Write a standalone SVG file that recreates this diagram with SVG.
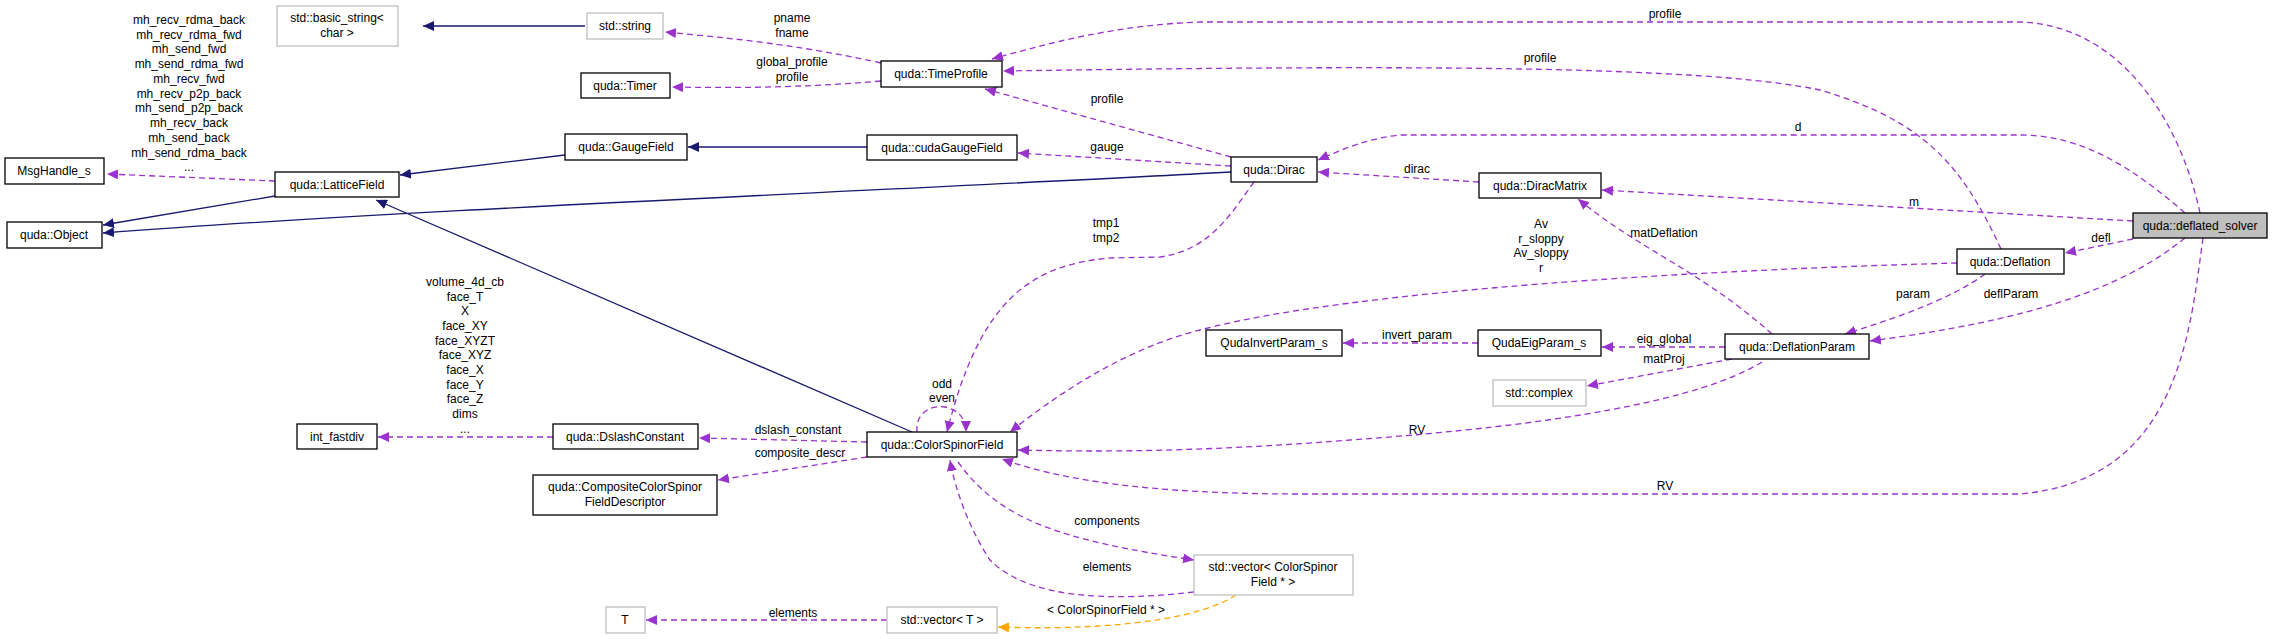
<svg xmlns="http://www.w3.org/2000/svg" width="2283" height="639" viewBox="0 0 2283 639">
<style>
text{font-family:"Liberation Sans",Arial,sans-serif;font-size:12px;fill:#000;text-anchor:middle}
.n rect{fill:#fff;stroke:#000;stroke-width:1.3}
.g rect{fill:#fff;stroke:#bfbfbf;stroke-width:1.3}
.m rect{fill:#bfbfbf;stroke:#000;stroke-width:1.3}
.e path{fill:none}
.inh{stroke:#191970;stroke-width:1.3}
.use{stroke:#9a32cd;stroke-width:1.3;stroke-dasharray:6,4}
.tpl{stroke:#ffa500;stroke-width:1.3;stroke-dasharray:6,4}
</style>
<defs>
<marker id="an" markerWidth="12" markerHeight="10" refX="11" refY="5" orient="auto" markerUnits="userSpaceOnUse"><path d="M0,0 L11,5 L0,10 z" fill="#191970"/></marker>
<marker id="ap" markerWidth="12" markerHeight="10" refX="11" refY="5" orient="auto" markerUnits="userSpaceOnUse"><path d="M0,0 L11,5 L0,10 z" fill="#9a32cd"/></marker>
<marker id="ao" markerWidth="12" markerHeight="10" refX="11" refY="5" orient="auto" markerUnits="userSpaceOnUse"><path d="M0,0 L11,5 L0,10 z" fill="#ffa500"/></marker>
</defs>
<rect width="2283" height="639" fill="#fff"/>
<g id="edges" class="e">
<path class="inh" marker-end="url(#an)" d="M585,26 L423,26"/>
<path class="inh" marker-end="url(#an)" d="M565,155 L400,175"/>
<path class="inh" marker-end="url(#an)" d="M867,147 L688,147"/>
<path class="inh" marker-end="url(#an)" d="M275,196 L103,225"/>
<path class="inh" marker-end="url(#an)" d="M1231,172 C900,190 400,210 103,233"/>
<path class="inh" marker-end="url(#an)" d="M912,432 L376,200"/>
<path class="use" marker-end="url(#ap)" d="M881,63 C800,45 730,38 665,32"/>
<path class="use" marker-end="url(#ap)" d="M881,81 C800,88 730,88 672,87"/>
<path class="use" marker-end="url(#ap)" d="M275,181 L107,174"/>
<path class="use" marker-end="url(#ap)" d="M1231,157 L985,89"/>
<path class="use" marker-end="url(#ap)" d="M1231,166 L1018,153"/>
<path class="use" marker-end="url(#ap)" d="M1479,182 L1318,172"/>
<path class="use" marker-end="url(#ap)" d="M2200,213 C2180,120 2120,25 2020,22 L1200,22 C1120,25 1060,40 992,59"/>
<path class="use" marker-end="url(#ap)" d="M2001,249 C1960,160 1920,120 1820,90 C1700,65 1400,65 1003,71"/>
<path class="use" marker-end="url(#ap)" d="M2185,213 C2130,165 2080,135 2020,135 L1400,135 C1370,138 1345,148 1318,160"/>
<path class="use" marker-end="url(#ap)" d="M2133,221 L1602,190"/>
<path class="use" marker-end="url(#ap)" d="M2133,239 L2065,253"/>
<path class="use" marker-end="url(#ap)" d="M2185,238 C2120,290 2030,320 1870,341"/>
<path class="use" marker-end="url(#ap)" d="M1985,274 C1950,300 1890,320 1845,334"/>
<path class="use" marker-end="url(#ap)" d="M1772,334 C1700,270 1640,250 1578,199"/>
<path class="use" marker-end="url(#ap)" d="M1957,263 C1700,270 1350,290 1200,330 C1120,350 1050,400 1010,432"/>
<path class="use" marker-end="url(#ap)" d="M1254,182 C1230,215 1210,250 1160,257 L1110,258 C1030,265 980,300 947,432"/>
<path class="use" marker-end="url(#ap)" d="M917,432 C915,410 935,405 945,407 C958,410 966,418 966,432"/>
<path class="use" marker-end="url(#ap)" d="M1725,347 L1602,347"/>
<path class="use" marker-end="url(#ap)" d="M1478,343 L1343,343"/>
<path class="use" marker-end="url(#ap)" d="M1732,359 L1587,386"/>
<path class="use" marker-end="url(#ap)" d="M1762,362 C1700,400 1560,425 1350,440 C1200,452 1100,452 1018,450"/>
<path class="use" marker-end="url(#ap)" d="M2203,238 C2190,330 2180,480 2020,494 L1300,494 C1150,494 1060,480 1002,459"/>
<path class="use" marker-end="url(#ap)" d="M553,437 L378,437"/>
<path class="use" marker-end="url(#ap)" d="M867,442 L699,438"/>
<path class="use" marker-end="url(#ap)" d="M867,457 L718,480"/>
<path class="use" marker-end="url(#ap)" d="M958,462 C1000,520 1060,540 1194,560"/>
<path class="use" marker-end="url(#ap)" d="M1194,592 C1080,605 1020,590 990,560 C970,530 955,490 950,460"/>
<path class="use" marker-end="url(#ap)" d="M887,620 L646,620"/>
<path class="tpl" marker-end="url(#ao)" d="M1236,595 C1190,625 1080,630 998,627"/>
</g>
<g id="labels">
<text x="792" y="22">pname</text><text x="792" y="37">fname</text>
<text x="792" y="66">global_profile</text><text x="792" y="81">profile</text>
<text x="1107" y="103">profile</text><text x="1107" y="151">gauge</text>
<text x="1417" y="173">dirac</text>
<text x="1665" y="18">profile</text><text x="1540" y="62">profile</text>
<text x="1798" y="131">d</text><text x="1914" y="206">m</text>
<text x="2101" y="242">defl</text><text x="2011" y="298">deflParam</text>
<text x="1913" y="298">param</text><text x="1664" y="237">matDeflation</text>
<text x="1541" y="228">Av</text><text x="1541" y="243">r_sloppy</text><text x="1541" y="257">Av_sloppy</text><text x="1541" y="272">r</text>
<text x="1106" y="227">tmp1</text><text x="1106" y="242">tmp2</text>
<text x="942" y="388">odd</text><text x="942" y="402">even</text>
<text x="1664" y="343">eig_global</text><text x="1417" y="339">invert_param</text>
<text x="1664" y="363">matProj</text>
<text x="1417" y="434">RV</text><text x="1665" y="490">RV</text>
<text x="798" y="434">dslash_constant</text><text x="800" y="457">composite_descr</text>
<text x="1107" y="525">components</text><text x="1107" y="571">elements</text>
<text x="793" y="617">elements</text><text x="1106" y="614">&lt; ColorSpinorField * &gt;</text>
<text x="189" y="24">mh_recv_rdma_back</text><text x="189" y="39">mh_recv_rdma_fwd</text><text x="189" y="53">mh_send_fwd</text><text x="189" y="68">mh_send_rdma_fwd</text><text x="189" y="83">mh_recv_fwd</text><text x="189" y="98">mh_recv_p2p_back</text><text x="189" y="112">mh_send_p2p_back</text><text x="189" y="127">mh_recv_back</text><text x="189" y="142">mh_send_back</text><text x="189" y="157">mh_send_rdma_back</text><text x="189" y="171">...</text>
<text x="465" y="286">volume_4d_cb</text><text x="465" y="301">face_T</text><text x="465" y="315">X</text><text x="465" y="330">face_XY</text><text x="465" y="345">face_XYZT</text><text x="465" y="359">face_XYZ</text><text x="465" y="374">face_X</text><text x="465" y="389">face_Y</text><text x="465" y="403">face_Z</text><text x="465" y="418">dims</text><text x="465" y="433">...</text>
</g>
<g id="n_basic_string" class="g"><rect x="277" y="6" width="121" height="40"/><text x="337" y="22">std::basic_string&lt;</text><text x="337" y="37">char &gt;</text></g>
<g id="n_string" class="g"><rect x="587" y="13" width="76" height="26"/><text x="625" y="30">std::string</text></g>
<g id="n_timer" class="n"><rect x="581" y="73" width="89" height="25"/><text x="625" y="90">quda::Timer</text></g>
<g id="n_msghandle" class="n"><rect x="5" y="158" width="99" height="26"/><text x="54" y="175">MsgHandle_s</text></g>
<g id="n_latticefield" class="n"><rect x="275" y="172" width="124" height="25"/><text x="337" y="189">quda::LatticeField</text></g>
<g id="n_gaugefield" class="n"><rect x="565" y="134" width="122" height="26"/><text x="626" y="151">quda::GaugeField</text></g>
<g id="n_object" class="n"><rect x="7" y="222" width="95" height="26"/><text x="54" y="239">quda::Object</text></g>
<g id="n_timeprofile" class="n"><rect x="881" y="61" width="121" height="26"/><text x="941" y="78">quda::TimeProfile</text></g>
<g id="n_cudagaugefield" class="n"><rect x="867" y="135" width="150" height="25"/><text x="942" y="152">quda::cudaGaugeField</text></g>
<g id="n_dirac" class="n"><rect x="1231" y="157" width="86" height="25"/><text x="1274" y="174">quda::Dirac</text></g>
<g id="n_diracmatrix" class="n"><rect x="1479" y="173" width="122" height="25"/><text x="1540" y="190">quda::DiracMatrix</text></g>
<g id="n_deflated_solver" class="m"><rect x="2133" y="213" width="134" height="25"/><text x="2200" y="230">quda::deflated_solver</text></g>
<g id="n_deflation" class="n"><rect x="1957" y="249" width="107" height="25"/><text x="2010" y="266">quda::Deflation</text></g>
<g id="n_deflationparam" class="n"><rect x="1725" y="334" width="144" height="25"/><text x="1797" y="351">quda::DeflationParam</text></g>
<g id="n_qudaeigparam" class="n"><rect x="1478" y="330" width="123" height="26"/><text x="1539" y="347">QudaEigParam_s</text></g>
<g id="n_complex" class="g"><rect x="1493" y="380" width="93" height="26"/><text x="1539" y="397">std::complex</text></g>
<g id="n_qudainvertparam" class="n"><rect x="1206" y="330" width="136" height="26"/><text x="1274" y="347">QudaInvertParam_s</text></g>
<g id="n_colorspinorfield" class="n"><rect x="867" y="432" width="150" height="25"/><text x="942" y="449">quda::ColorSpinorField</text></g>
<g id="n_dslashconstant" class="n"><rect x="553" y="424" width="145" height="25"/><text x="625" y="441">quda::DslashConstant</text></g>
<g id="n_int_fastdiv" class="n"><rect x="297" y="424" width="80" height="25"/><text x="337" y="441">int_fastdiv</text></g>
<g id="n_composite" class="n"><rect x="533" y="475" width="184" height="40"/><text x="625" y="491">quda::CompositeColorSpinor</text><text x="625" y="506">FieldDescriptor</text></g>
<g id="n_vector_csf" class="g"><rect x="1194" y="555" width="159" height="40"/><text x="1273" y="571">std::vector&lt; ColorSpinor</text><text x="1273" y="586">Field * &gt;</text></g>
<g id="n_vector_t" class="g"><rect x="887" y="607" width="110" height="26"/><text x="942" y="624">std::vector&lt; T &gt;</text></g>
<g id="n_t" class="g"><rect x="606" y="607" width="39" height="26"/><text x="625" y="624">T</text></g>
</svg>
